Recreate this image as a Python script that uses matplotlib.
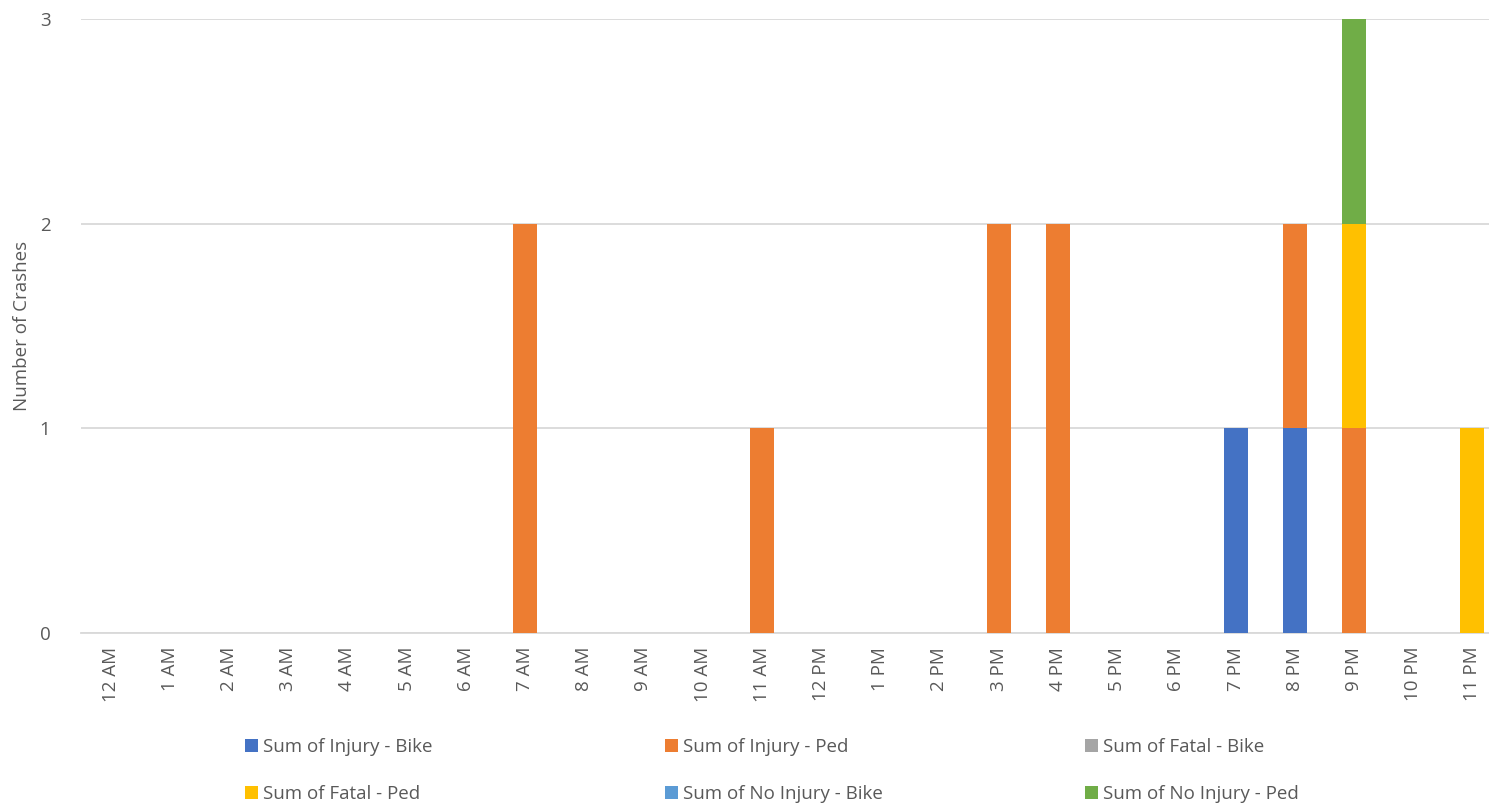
import matplotlib
matplotlib.use("Agg")
import matplotlib.pyplot as plt
from matplotlib.patches import Patch
import numpy as np

plt.rcParams['font.family'] = ['Open Sans', 'DejaVu Sans']

hours = ["12 AM", "1 AM", "2 AM", "3 AM", "4 AM", "5 AM", "6 AM", "7 AM", "8 AM", "9 AM",
         "10 AM", "11 AM", "12 PM", "1 PM", "2 PM", "3 PM", "4 PM", "5 PM", "6 PM", "7 PM",
         "8 PM", "9 PM", "10 PM", "11 PM"]
injury_bike   = [0,0,0,0,0,0,0,0,0,0,0,0,0,0,0,0,0,0,0,1,1,0,0,0]
injury_ped    = [0,0,0,0,0,0,0,2,0,0,0,1,0,0,0,2,2,0,0,0,1,1,0,0]
fatal_bike    = [0]*24
fatal_ped     = [0,0,0,0,0,0,0,0,0,0,0,0,0,0,0,0,0,0,0,0,0,1,0,1]
noinjury_bike = [0]*24
noinjury_ped  = [0,0,0,0,0,0,0,0,0,0,0,0,0,0,0,0,0,0,0,0,0,1,0,0]

series = [
    ("Sum of Injury - Bike", injury_bike, "#4472C4"),
    ("Sum of Injury - Ped", injury_ped, "#ED7D31"),
    ("Sum of Fatal - Bike", fatal_bike, "#A5A5A5"),
    ("Sum of Fatal - Ped", fatal_ped, "#FFC000"),
    ("Sum of No Injury - Bike", noinjury_bike, "#5B9BD5"),
    ("Sum of No Injury - Ped", noinjury_ped, "#70AD47"),
]

fig = plt.figure(figsize=(14.89, 8.05), dpi=100)
ax = fig.add_axes([0.0544, 0.2137, 0.9543, 0.7627])

x = np.arange(len(hours))
bottom = np.zeros(len(hours))
for name, vals, col in series:
    v = np.array(vals, dtype=float)
    ax.bar(x, v, width=0.405, bottom=bottom, color=col, zorder=3, linewidth=0)
    bottom += v

ax.set_xlim(-0.5, len(hours) - 0.5)
ax.set_ylim(0, 3)
ax.set_yticks([0, 1, 2, 3])
ax.yaxis.grid(True, color="#D9D9D9", linewidth=1.3, zorder=0)
for s in ["top", "right", "left"]:
    ax.spines[s].set_visible(False)
ax.spines["bottom"].set_color("#D9D9D9")
ax.spines["bottom"].set_linewidth(1.3)
ax.set_xticks(x)
ax.set_xticklabels(hours, rotation=90)
ax.tick_params(axis="both", length=0, labelsize=13.5, colors="#595959")
ax.tick_params(axis="y", pad=22)
ax.tick_params(axis="x", pad=10)
ax.set_ylabel("Number of Crashes", fontsize=13.5, color="#595959", labelpad=6)

handles = [Patch(facecolor=c, edgecolor="none") for _, _, c in series]
labels = [n for n, _, _ in series]
col_x = [0.1645, 0.4466, 0.7287]
for i in range(3):
    h = [handles[i], handles[i + 3]]
    l = [labels[i], labels[i + 3]]
    fig.legend(h, l, loc="upper left", bbox_to_anchor=(col_x[i], 0.083), ncol=1,
               frameon=False, fontsize=13.5, handlelength=0.7, handleheight=0.7,
               handletextpad=0.25, labelspacing=1.55, labelcolor="#595959",
               borderaxespad=0, borderpad=0)

fig.savefig("out.png", dpi=100)
